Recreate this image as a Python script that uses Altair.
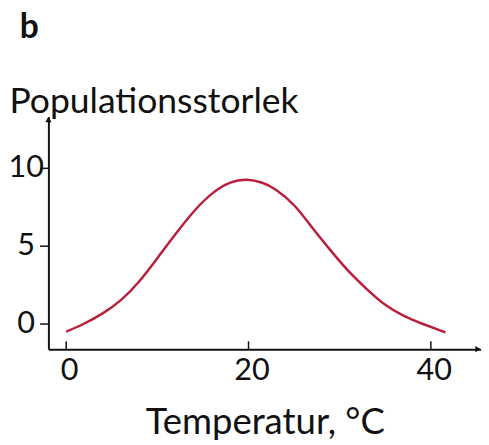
import altair as alt
import pandas as pd

# Data
temp = [0, 2, 4, 6, 8, 10, 12, 14, 16, 18, 19.8, 21.5, 23, 25, 27, 29, 31, 33, 35,
        37, 39, 41.6]
pop = [-0.53, 0.0, 0.65, 1.5, 2.7, 4.2, 5.75, 7.2, 8.35, 9.05, 9.24, 9.05, 8.6, 7.6,
       6.15, 4.7, 3.35, 2.2, 1.2, 0.5, 0.0, -0.57]
x_ticks = [0, 20, 40]
y_ticks = [0, 5, 10]

W, H = 439, 236
FONT = "Lato"

df = pd.DataFrame({"t": temp, "p": pop})
xs = alt.Scale(domain=[-1.95, 45.5], nice=False, zero=False)
ys = alt.Scale(domain=[-1.65, 13.3], nice=False, zero=False)

curve = alt.Chart(df).mark_line(
    color="#BA1F3C", strokeWidth=2.5, interpolate="natural"
).encode(
    x=alt.X("t:Q", scale=xs, axis=alt.Axis(
        values=x_ticks, ticks=False, grid=False, domainColor="#111", domainWidth=2,
        labelFont=FONT, labelFontSize=31, labelColor="#111", labelPadding=7,
        labelFlush=False, labelOffset=3,
        title="Temperatur, °C", titleFont=FONT, titleFontSize=37, titleFontWeight="normal",
        titleColor="#111", titleBaseline="alphabetic", titleY=86)),
    y=alt.Y("p:Q", scale=ys, axis=alt.Axis(
        values=y_ticks, tickSize=9, tickColor="#111", tickWidth=1.5, grid=False,
        domainColor="#111", domainWidth=2,
        labelFont=FONT, labelFontSize=31, labelColor="#111", labelAlign="center",
        labelBaseline="middle", labelPadding=14, labelFlush=False,
        title="Populationsstorlek", titleFont=FONT, titleFontSize=36,
        titleFontWeight="normal", titleColor="#111", titleAngle=0, titleAlign="left",
        titleBaseline="alphabetic", titleX=-40, titleY=-4)),
)

tick_df = pd.DataFrame({"t": x_ticks})
xticks = alt.Chart(tick_df).mark_rule(color="#111", strokeWidth=1.5).encode(
    x=alt.X("t:Q", scale=xs), y=alt.value(H - 8), y2=alt.value(H)
)

one = pd.DataFrame({"a": [0]})
arrow_up = alt.Chart(one).mark_point(
    shape="triangle-up", filled=True, color="#111", size=40, opacity=1
).encode(x=alt.value(0), y=alt.value(3))
arrow_right = alt.Chart(one).mark_point(
    shape="triangle-right", filled=True, color="#111", size=40, opacity=1
).encode(x=alt.value(W - 3), y=alt.value(H))

chart = alt.layer(curve, xticks, arrow_up, arrow_right).properties(
    width=W, height=H,
    autosize=alt.AutoSizeParams(type="none"),
    padding={"left": 41, "top": 107, "right": 0, "bottom": 92},
    title=alt.TitleParams("b", anchor="start", frame="group", font=FONT, fontSize=34,
                          fontWeight="bold", color="#111", dx=-29, dy=-36),
).configure_view(stroke=None)

chart.save("out.html", embed_options={"renderer": "svg", "actions": False})
